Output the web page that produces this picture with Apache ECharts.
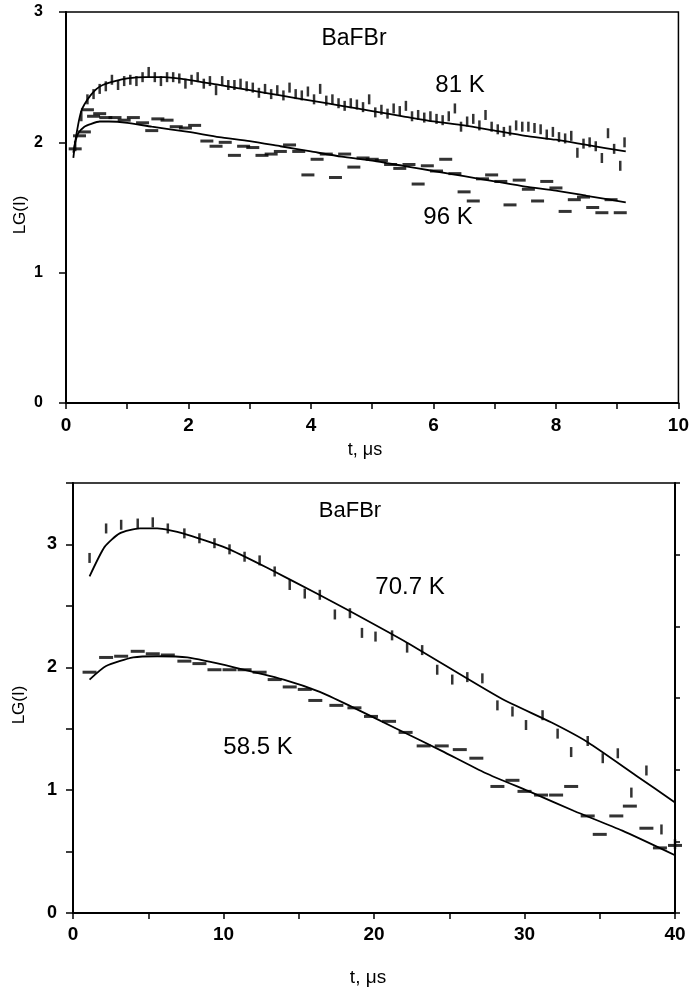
<!DOCTYPE html>
<html lang="en">
<head>
    <meta charset="utf-8">
    <title>BaFBr LG(I)</title>
    <script src="https://cdn.jsdelivr.net/npm/echarts@6/dist/echarts.min.js"></script>
    <style>
        html, body, #main {
            width: 692px;
            height: 989px;
            margin: 0;
            padding: 0;
            background: #ffffff;
        }
    </style>
</head>
<body>
<div id="main"></div>
<script>
    // ---- top panel: 81 K and 96 K, t in us ----
    var fit81T = [0.12, 0.15, 0.2, 0.25, 0.3, 0.4, 0.5, 0.6, 0.8, 1.0, 1.3, 1.6, 2.0, 2.5, 3, 3.5, 4, 4.5, 5, 5.5, 6, 6.5, 7, 7.5, 8, 8.5, 9.14];
    var fit81V = [1.88, 2.0, 2.14, 2.24, 2.29, 2.36, 2.41, 2.44, 2.47, 2.49, 2.5, 2.5, 2.48, 2.44, 2.4, 2.36, 2.32, 2.28, 2.24, 2.2, 2.16, 2.13, 2.09, 2.05, 2.02, 1.98, 1.93];

    var data81T = [];
    for (var k = 0; k <= 89; k++) data81T.push(+(0.15 + 0.1 * k).toFixed(2));
    data81T.push(9.12);
    var data81V = [1.97, 2.2, 2.33, 2.37, 2.41, 2.43, 2.48, 2.44, 2.47, 2.48,
        2.47, 2.5, 2.54, 2.5, 2.47, 2.5, 2.5, 2.49, 2.45, 2.48,
        2.5, 2.45, 2.47, 2.4, 2.47, 2.44, 2.44, 2.45, 2.43, 2.42,
        2.38, 2.41, 2.37, 2.4, 2.36, 2.42, 2.37, 2.36, 2.39, 2.33,
        2.41, 2.32, 2.33, 2.3, 2.28, 2.3, 2.29, 2.27, 2.33, 2.23,
        2.25, 2.22, 2.26, 2.24, 2.28, 2.2, 2.21, 2.19, 2.2, 2.18,
        2.17, 2.2, 2.26, 2.12, 2.16, 2.18, 2.13, 2.21, 2.12, 2.1,
        2.08, 2.09, 2.13, 2.12, 2.12, 2.11, 2.1, 2.06, 2.08, 2.04,
        2.03, 2.05, 1.92, 1.99, 2.0, 1.97, 1.88, 2.07, 1.95, 1.82, 2.0];

    var fit96T = [0.12, 0.15, 0.2, 0.3, 0.4, 0.55, 0.7, 1.0, 1.4, 2.0, 2.5, 3, 3.5, 4, 4.5, 5, 5.5, 6, 6.5, 7, 7.5, 8, 8.5, 9.14];
    var fit96V = [1.92, 2.0, 2.07, 2.12, 2.14, 2.16, 2.16, 2.15, 2.12, 2.08, 2.04, 2.01, 1.97, 1.93, 1.89, 1.86, 1.82, 1.78, 1.74, 1.7, 1.66, 1.63, 1.59, 1.54];

    var data96T = [0.15, 0.22, 0.3, 0.35, 0.45, 0.55, 0.65, 0.8, 0.95, 1.1, 1.25, 1.4, 1.5, 1.65, 1.8, 1.95, 2.1,
        2.3, 2.45, 2.6, 2.75, 2.9, 3.05, 3.2, 3.35, 3.5, 3.65, 3.8, 3.95, 4.1, 4.25, 4.4, 4.55, 4.7, 4.85,
        5.0, 5.15, 5.3, 5.45, 5.6, 5.75, 5.9, 6.05, 6.2, 6.35, 6.5, 6.65, 6.8, 6.95, 7.1, 7.25, 7.4,
        7.55, 7.7, 7.85, 8.0, 8.15, 8.3, 8.45, 8.6, 8.75, 8.9, 9.05];
    var data96V = [1.95, 2.05, 2.08, 2.25, 2.2, 2.22, 2.19, 2.19, 2.17, 2.19, 2.15, 2.09, 2.18, 2.17, 2.12, 2.11, 2.13,
        2.01, 1.97, 2.0, 1.9, 1.97, 1.96, 1.9, 1.91, 1.93, 1.98, 1.93, 1.75, 1.87, 1.91, 1.73, 1.91, 1.81, 1.88,
        1.87, 1.86, 1.83, 1.8, 1.83, 1.68, 1.82, 1.78, 1.87, 1.76, 1.62, 1.55, 1.72, 1.75, 1.7, 1.52, 1.71,
        1.64, 1.55, 1.7, 1.65, 1.47, 1.56, 1.58, 1.5, 1.46, 1.56, 1.46];

    // ---- bottom panel: 70.7 K and 58.5 K ----
    var fit707T = [1.1, 2.1, 3.1, 4.45, 5.6, 7.3, 10.2, 12.9, 16.2, 18.2, 22.2, 28.4, 31.8, 34.2, 37.4, 40];
    var fit707V = [2.74, 2.98, 3.09, 3.13, 3.13, 3.09, 2.97, 2.81, 2.6, 2.47, 2.2, 1.75, 1.55, 1.39, 1.12, 0.9];

    var data707T = [1.1, 2.2, 3.2, 4.3, 5.3, 6.3, 7.4, 8.4, 9.4, 10.4, 11.4, 12.4, 13.4, 14.4, 15.4, 16.4, 17.4, 18.4, 19.2, 20.1,
        21.2, 22.2, 23.2, 24.2, 25.2, 26.2, 27.2, 28.2, 29.2, 30.1, 31.2, 32.2, 33.1, 34.2, 35.2, 36.2, 37.1, 38.1, 39.1, 40.0];
    var data707V = [2.89, 3.13, 3.16, 3.17, 3.18, 3.13, 3.09, 3.05, 3.01, 2.96, 2.9, 2.87, 2.78, 2.67, 2.6, 2.59, 2.43, 2.44, 2.28, 2.25,
        2.26, 2.16, 2.14, 1.98, 1.9, 1.92, 1.91, 1.69, 1.64, 1.53, 1.61, 1.46, 1.31, 1.4, 1.26, 1.3, 0.98, 1.16, 0.68, 0.56];

    var fit585T = [1.1, 2.2, 4, 5.6, 7.6, 10.7, 14, 16.4, 18.5, 21.5, 24.5, 27.4, 30.5, 33.3, 36.5, 40];
    var fit585V = [1.9, 2.01, 2.08, 2.09, 2.08, 2.0, 1.9, 1.8, 1.68, 1.5, 1.32, 1.14, 0.98, 0.83, 0.67, 0.47];

    var data585T = [1.1, 2.2, 3.2, 4.3, 5.3, 6.3, 7.4, 8.4, 9.4, 10.4, 11.4, 12.4, 13.4, 14.4, 15.4, 16.1, 17.5, 18.7, 19.8,
        21.0, 22.1, 23.3, 24.5, 25.7, 26.8, 28.2, 29.2, 30.0, 31.1, 32.1, 33.1, 34.2, 35.0, 36.1, 37.0, 38.1, 39.0, 40.0];
    var data585V = [1.96, 2.08, 2.09, 2.13, 2.11, 2.1, 2.05, 2.03, 1.98, 1.98, 1.98, 1.96, 1.9, 1.84, 1.82, 1.73, 1.69, 1.67, 1.6,
        1.56, 1.47, 1.36, 1.36, 1.33, 1.26, 1.03, 1.08, 0.99, 0.96, 0.96, 1.03, 0.79, 0.64, 0.79, 0.87, 0.69, 0.53, 0.55];

    function zip(xs, ys) {
        var out = [];
        for (var i = 0; i < xs.length; i++) out.push([xs[i], ys[i]]);
        return out;
    }

    var font = 'Liberation Sans, Arial, sans-serif';

    function xAxisOf(grid, max, interval, labelEvery, size, margin) {
        return {
            gridIndex: grid, type: 'value', min: 0, max: max, interval: interval,
            axisLine: {onZero: false, lineStyle: {color: '#000', width: 2}},
            axisTick: {length: 6, lineStyle: {color: '#000', width: 1.5}},
            splitLine: {show: false},
            axisLabel: {
                color: '#000', fontFamily: font, fontWeight: 'bold', fontSize: size, margin: margin,
                formatter: function (v) { return v % labelEvery === 0 ? String(v) : ''; }
            }
        };
    }

    function yAxisOf(grid, max, interval, size, margin) {
        return {
            gridIndex: grid, type: 'value', min: 0, max: max, interval: interval,
            axisLine: {onZero: false, lineStyle: {color: '#000', width: 2}},
            axisTick: {length: 7, lineStyle: {color: '#000', width: 1.5}},
            splitLine: {show: false},
            axisLabel: {
                color: '#000', fontFamily: font, fontWeight: 'bold', fontSize: size, margin: margin,
                formatter: function (v) { return v % 1 === 0 ? String(v) : ''; }
            }
        };
    }

    function fitLine(name, xi, data) {
        return {
            name: name, type: 'line', xAxisIndex: xi, yAxisIndex: xi, data: data,
            showSymbol: false, smooth: 0.2,
            lineStyle: {color: '#000', width: 1.8}
        };
    }

    function marks(name, xi, data, size) {
        return {
            name: name, type: 'scatter', xAxisIndex: xi, yAxisIndex: xi, data: data,
            symbol: 'rect', symbolSize: size,
            itemStyle: {color: '#000'}
        };
    }

    function txt(x, y, s, size, rot) {
        return {
            type: 'text', x: x, y: y, rotation: rot || 0,
            style: {
                text: s, fill: '#000', font: size + 'px ' + font,
                textAlign: 'center', textVerticalAlign: 'middle'
            }
        };
    }

    var chart = echarts.init(document.getElementById('main'));
    var rightAxis = yAxisOf(1, 6, 1, 12, 8);
    rightAxis.position = 'right';
    rightAxis.axisLabel.show = false;
    rightAxis.axisTick.length = 5;

    chart.setOption({
        animation: false,
        backgroundColor: '#fff',
        grid: [
            {left: 66, top: 12, width: 614, height: 391, show: true, borderColor: '#000', borderWidth: 1.5},
            {left: 73, top: 483, width: 602, height: 430, show: true, borderColor: '#000', borderWidth: 1.5}
        ],
        xAxis: [
            xAxisOf(0, 10, 1, 2, 19, 13),
            xAxisOf(1, 40, 5, 10, 19, 12)
        ],
        yAxis: [
            yAxisOf(0, 3, 1, 16, 23),
            yAxisOf(1, 3.5, 0.5, 18, 16),
            rightAxis
        ],
        series: [
            fitLine('81 K fit', 0, zip(fit81T, fit81V)),
            marks('81 K', 0, zip(data81T, data81V), [2.5, 10]),
            fitLine('96 K fit', 0, zip(fit96T, fit96V)),
            marks('96 K', 0, zip(data96T, data96V), [13, 3]),
            fitLine('70.7 K fit', 1, zip(fit707T, fit707V)),
            marks('70.7 K', 1, zip(data707T, data707V), [2.5, 10]),
            fitLine('58.5 K fit', 1, zip(fit585T, fit585V)),
            marks('58.5 K', 1, zip(data585T, data585V), [14, 3])
        ],
        graphic: [
            txt(354, 39, 'BaFBr', 23),
            txt(460, 85, '81 K', 24),
            txt(448, 217, '96 K', 24),
            txt(20, 215, 'LG(I)', 17, Math.PI / 2),
            txt(365, 450, 't, μs', 18),
            txt(350, 511, 'BaFBr', 22),
            txt(410, 587, '70.7 K', 24),
            txt(258, 747, '58.5 K', 24),
            txt(19, 705, 'LG(I)', 17, Math.PI / 2),
            txt(368, 978, 't, μs', 19)
        ]
    });
</script>
</body>
</html>
